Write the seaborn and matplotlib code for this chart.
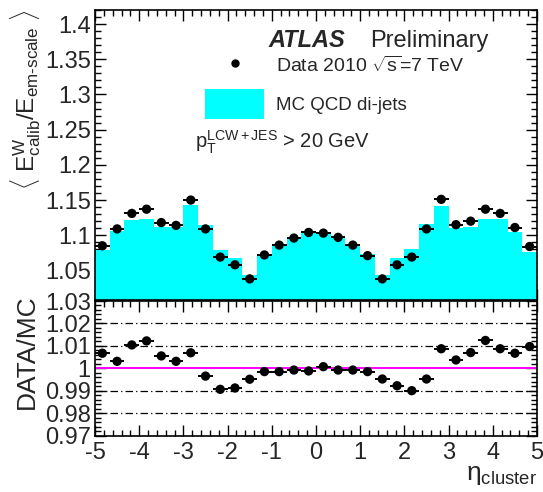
import numpy as np
import pandas as pd
import matplotlib
matplotlib.use("Agg")
import matplotlib.pyplot as plt
from matplotlib.ticker import MultipleLocator, FuncFormatter
from matplotlib.patches import Rectangle
import seaborn as sns

# 30 eta bins from -5 to 5
n_bins = 30
eta_range = (-5, 5)
eta_edges = np.linspace(eta_range[0], eta_range[1], n_bins + 1)
eta_centers = 0.5 * (eta_edges[:-1] + eta_edges[1:])

# <E_calib^W / E_em-scale> per bin
data_resp = [1.085, 1.109, 1.131, 1.137, 1.118, 1.114, 1.150, 1.109, 1.069, 1.058,
             1.038, 1.072, 1.086, 1.096, 1.104, 1.103, 1.097, 1.086, 1.071, 1.038,
             1.058, 1.069, 1.109, 1.151, 1.115, 1.120, 1.137, 1.131, 1.111, 1.084]
mc_resp = [1.079, 1.106, 1.121, 1.123, 1.112, 1.112, 1.143, 1.114, 1.079, 1.068,
           1.044, 1.072, 1.088, 1.097, 1.105, 1.103, 1.097, 1.088, 1.073, 1.044,
           1.068, 1.081, 1.116, 1.142, 1.111, 1.112, 1.123, 1.123, 1.105, 1.076]
# DATA/MC ratio per bin
ratio = [1.0067, 1.0031, 1.0104, 1.0122, 1.0055, 1.0031, 1.0069, 0.9965, 0.9906, 0.9912,
         0.9951, 0.9985, 0.9985, 0.9992, 0.9988, 1.0007, 0.9992, 0.9992, 0.9985, 0.9952,
         0.9922, 0.9900, 0.9952, 1.0087, 1.0037, 1.0070, 1.0124, 1.0087, 1.0067, 1.0097]
ratio_grid = [1.02, 1.01, 0.99, 0.98]

df = pd.DataFrame({"eta": eta_centers, "data": data_resp, "mc": mc_resp, "ratio": ratio})
half_width = (eta_edges[1] - eta_edges[0]) / 2

sns.set_theme(style="ticks")
plt.rcParams["font.family"] = ["Liberation Sans", "DejaVu Sans"]
plt.rcParams["mathtext.fontset"] = "custom"
plt.rcParams["mathtext.rm"] = "Liberation Sans"
plt.rcParams["mathtext.it"] = "Liberation Sans:italic"
plt.rcParams["mathtext.bf"] = "Liberation Sans:bold"

W, H = 543, 492
fig = plt.figure(figsize=(W / 100, H / 100), dpi=100)
fig.patch.set_facecolor("white")
ax = fig.add_axes([95 / W, 1 - 300 / H, 442 / W, 290 / H])
axr = fig.add_axes([95 / W, 1 - 435.5 / H, 442 / W, 134.5 / H])

CYAN = "#00FFFF"
fmt = FuncFormatter(lambda v, p: f"{v:g}")

# ---- upper panel: response ----
sns.histplot(data=df, x="eta", weights="mc", bins=n_bins, binrange=eta_range,
             element="step", fill=True, color=CYAN, alpha=1.0, linewidth=0,
             ax=ax, zorder=1)
ax.errorbar(df["eta"], df["data"], xerr=half_width, fmt="none",
            ecolor="black", elinewidth=1.4, capsize=0, zorder=3)
sns.scatterplot(data=df, x="eta", y="data", color="black", s=45,
                edgecolor="none", ax=ax, zorder=4)
ax.set_xlim(-5, 5)
ax.set_ylim(1.008, 1.42)
ax.yaxis.set_major_locator(MultipleLocator(0.05))
ax.yaxis.set_minor_locator(MultipleLocator(0.01))
ax.yaxis.set_major_formatter(fmt)
ax.xaxis.set_major_locator(MultipleLocator(1))
ax.xaxis.set_minor_locator(MultipleLocator(0.2))
ax.tick_params(axis="x", labelbottom=False)
ax.set_xlabel("")
ax.set_ylabel(r"$\langle\ \mathrm{E}^{\mathrm{W}}_{\mathrm{calib}}/\mathrm{E}_{\mathrm{em\text{-}scale}}\ \rangle$",
              fontsize=17.5)
ax.yaxis.set_label_coords(-0.118, 0.69)

# ---- lower panel: DATA/MC ----
for g in ratio_grid:
    axr.axhline(g, color="black", lw=0.9, ls=(0, (6, 2.5, 1, 2.5)), zorder=1)
axr.axhline(1.0, color="#FF00FF", lw=1.4, zorder=2)
axr.errorbar(df["eta"], df["ratio"], xerr=half_width, fmt="none",
             ecolor="black", elinewidth=1.4, capsize=0, zorder=3)
sns.scatterplot(data=df, x="eta", y="ratio", color="black", s=45,
                edgecolor="none", ax=axr, zorder=4)
axr.set_xlim(-5, 5)
axr.set_ylim(0.97, 1.03)
axr.yaxis.set_major_locator(MultipleLocator(0.01))
axr.yaxis.set_minor_locator(MultipleLocator(0.002))
axr.yaxis.set_major_formatter(fmt)
axr.xaxis.set_major_locator(MultipleLocator(1))
axr.xaxis.set_minor_locator(MultipleLocator(0.2))
axr.xaxis.set_major_formatter(fmt)
axr.set_ylabel("DATA/MC", fontsize=19)
axr.yaxis.set_label_coords(-0.128, 0.62)
axr.set_xlabel(r"$\mathrm{η}_{\mathrm{cluster}}$", fontsize=19)
axr.xaxis.set_label_coords(1.0, -0.205)
axr.xaxis.label.set_ha("right")

for a in (ax, axr):
    a.set_facecolor("white")
    a.tick_params(which="both", direction="in", top=True, right=True,
                  width=1.0, color="black", labelsize=17, pad=3)
    a.tick_params(which="major", length=8)
    a.tick_params(which="minor", length=4)
    for s in a.spines.values():
        s.set_linewidth(1.2)
        s.set_color("black")
axr.tick_params(axis="x", pad=5)

# ---- annotations ----
def px(x, y):
    return x / W, 1 - y / H

fig.text(*px(268, 47), "ATLAS", fontsize=17, fontweight="bold", fontstyle="italic",
         va="baseline", ha="left")
fig.text(*px(370, 47), "Preliminary", fontsize=17, va="baseline", ha="left")
fig.text(*px(276, 72), r"Data 2010 $\sqrt{\mathrm{s}}$=7 TeV", fontsize=14,
         va="baseline", ha="left")
fig.add_artist(plt.Line2D([235 / W], [1 - 63 / H], marker="o", color="black",
                          markersize=5, transform=fig.transFigure))
fig.add_artist(Rectangle(px(205, 119), 59 / W, 30 / H, facecolor=CYAN,
                         edgecolor="none", transform=fig.transFigure))
fig.text(*px(276, 110), "MC QCD di-jets", fontsize=13.5, va="baseline", ha="left")
fig.text(*px(195, 148), r"$\mathrm{p}_{\mathrm{T}}^{\mathrm{LCW+JES}}$ > 20 GeV",
         fontsize=14.5, va="baseline", ha="left")

fig.savefig("out.png", dpi=100, facecolor="white")
